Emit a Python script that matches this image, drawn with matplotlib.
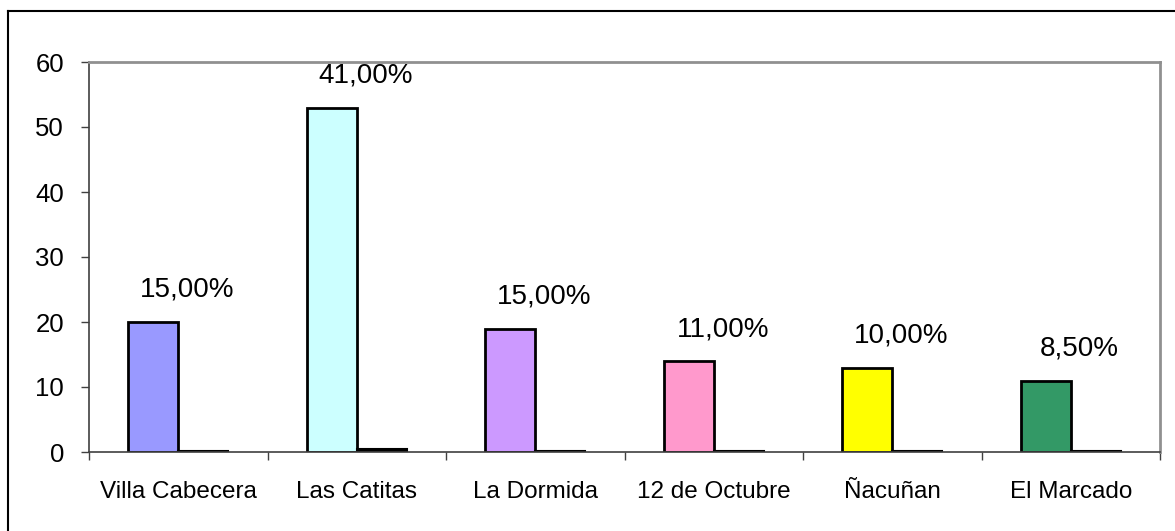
import matplotlib.pyplot as plt
import numpy as np
from matplotlib.lines import Line2D

plt.rcParams['font.family'] = ['Liberation Sans', 'DejaVu Sans']

# data
categories = ["Villa Cabecera", "Las Catitas", "La Dormida", "12 de Octubre", "Ñacuñan", "El Marcado"]
counts = [20, 53, 19, 14, 13, 11]
shares = [0.15, 0.41, 0.15, 0.11, 0.10, 0.085]
share_labels = ["15,00%", "41,00%", "15,00%", "11,00%", "10,00%", "8,50%"]
colors = ['#9999ff', '#ccffff', '#cc99ff', '#ff99cc', '#ffff00', '#339966']

fig = plt.figure(figsize=(11.75, 5.31), dpi=100)
ax = fig.add_axes([89/1175, 1 - 452/531, (1160 - 89)/1175, (452 - 62)/531])

x = np.arange(len(categories))
w = 0.28
ax.bar(x - w/2, counts, width=w, color=colors, edgecolor='black', linewidth=2, zorder=3)
ax.bar(x + w/2, shares, width=w, color='black', edgecolor='black', linewidth=1.5, zorder=3)

for i in range(len(categories)):
    ax.annotate(share_labels[i], (x[i] + 0.05, counts[i]), xytext=(0, 18),
                textcoords='offset points', ha='center', va='baseline', fontsize=20,
                annotation_clip=False, zorder=5)

ax.set_xlim(-0.5, len(categories) - 0.5)
ax.set_ylim(0, 60)
ax.set_yticks(range(0, 61, 10))
ax.set_xticks(x)
ax.set_xticklabels(categories, fontsize=17.5)
ax.set_xticks(np.arange(-0.5, len(categories), 1), minor=True)
ax.tick_params(axis='x', which='major', length=0, pad=21)
ax.tick_params(axis='x', which='minor', length=6, width=1, color='#404040', direction='out')
ax.tick_params(axis='y', labelsize=18.5, length=6, width=1, color='#404040', pad=12)

for s in ['left', 'bottom']:
    ax.spines[s].set_color('#404040')
    ax.spines[s].set_linewidth(1.2)
for s in ['top', 'right']:
    ax.spines[s].set_color('#909090')
    ax.spines[s].set_linewidth(2)
ax.spines['bottom'].set_zorder(4)

# outer chart border
fig.add_artist(Line2D([8/1175, 1], [1 - 11/531, 1 - 11/531], color='black', lw=1.5))
fig.add_artist(Line2D([8/1175, 8/1175], [0, 1 - 11/531], color='black', lw=1.5))

fig.savefig('out.png', dpi=100)
